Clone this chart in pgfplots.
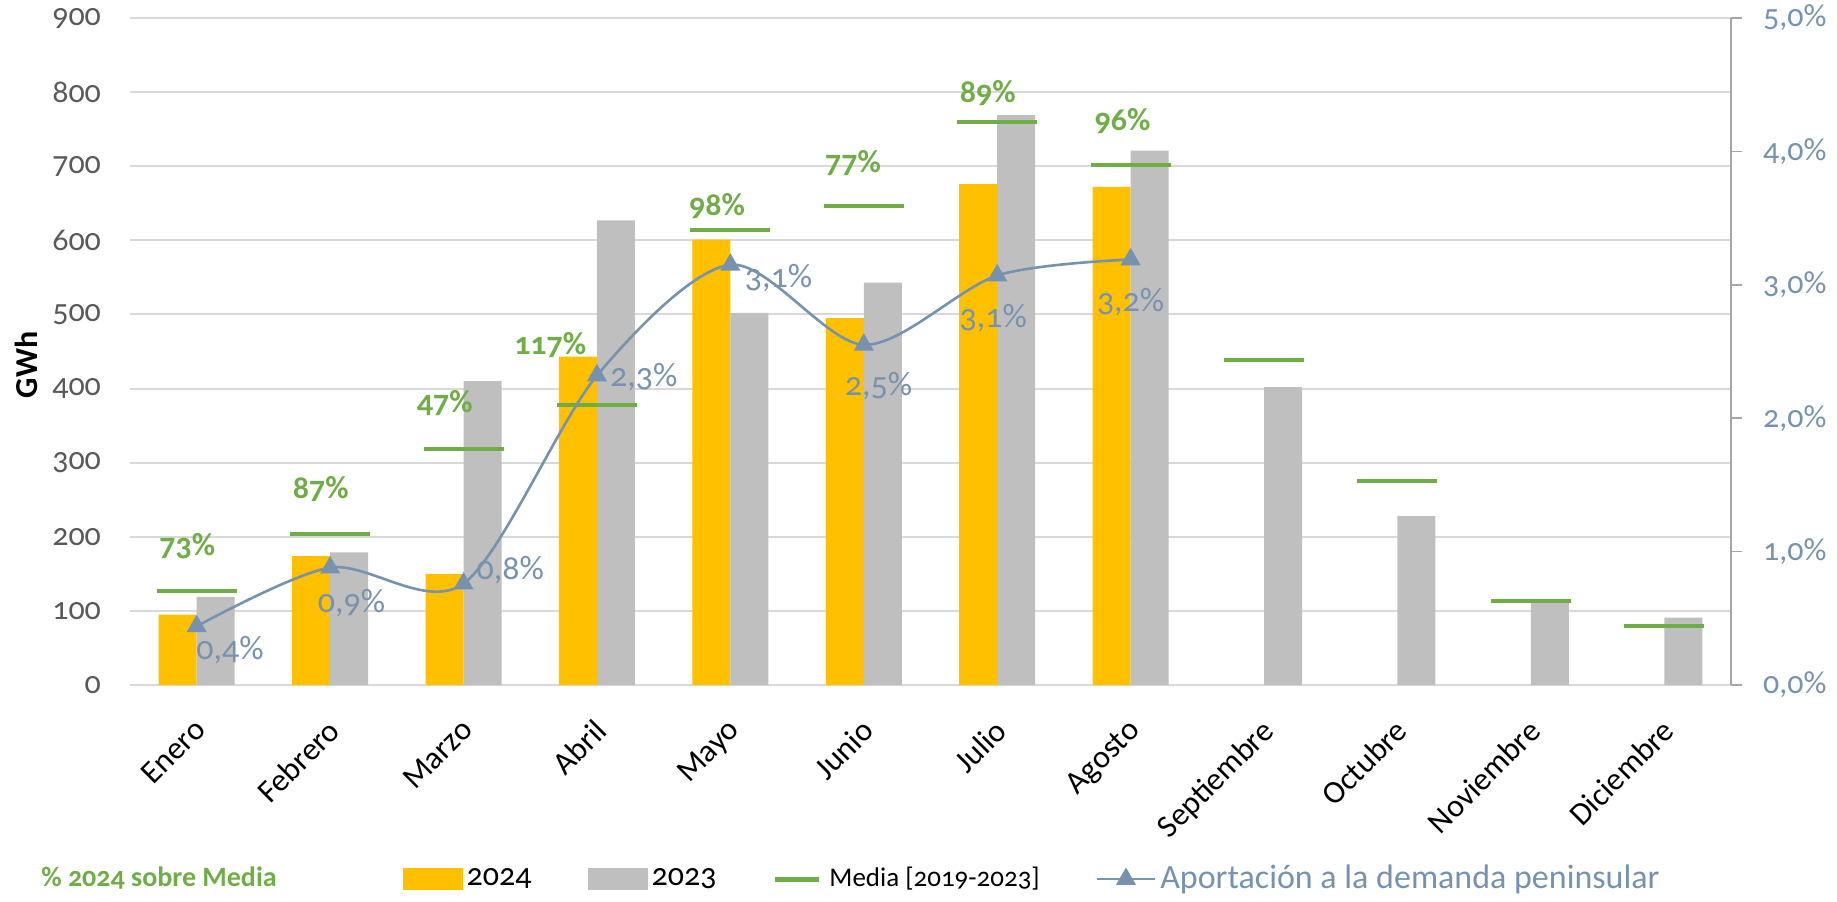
\documentclass[border=0pt]{standalone}
\usepackage{pgfplots}
\pgfplotsset{compat=1.18}
\usepackage{fontspec}
\setmainfont{Carlito}[Numbers=OldStyle]

\definecolor{orange24}{HTML}{FFC000}
\definecolor{gray23}{HTML}{BFBFBF}
\definecolor{mediagreen}{HTML}{70AD47}
\definecolor{slate}{HTML}{7792AE}
\definecolor{gridgray}{HTML}{D9D9D9}
\definecolor{ticktext}{HTML}{595959}
\definecolor{axisgray}{HTML}{A6A6A6}

\pgfplotsset{/pgf/number format/assume math mode=true}

% month index, GWh
\pgfplotstableread{
x y
0 95
1 174
2 150
3 443
4 601
5 495
6 676
7 672
}\prodA
\pgfplotstableread{
x y
0 119
1 179
2 410
3 627
4 502
5 543
6 769
7 721
8 402
9 228
10 113
11 91
}\prodB
\pgfplotstableread{
x y
0 127.5
1 204
2 319
3 378
4 614
5 646
6 760
7 701
8 438
9 275
10 114
11 80
}\media

\begin{document}
\fontsize{16}{19}\selectfont
\begin{tikzpicture}
\path[use as bounding box] (-65pt,-108pt) rectangle (853.5pt,342.5pt);
\begin{axis}[
    scale only axis,
    width=800.5pt, height=333.5pt,
    xmin=-0.5, xmax=11.5,
    ymin=0, ymax=900,
    xtick={0,...,11},
    xticklabels={Enero,Febrero,Marzo,Abril,Mayo,Junio,Julio,Agosto,Septiembre,Octubre,Noviembre,Diciembre},
    ytick={0,100,...,900},
    ymajorgrids,
    grid style={gridgray, line width=1pt},
    axis line style={draw=none},
    major tick length=0pt,
    xticklabel style={xshift=-2pt, yshift=-8.4pt, rotate=45, anchor=north east, black},
    yticklabel style={ticktext, xshift=-9pt},
    ylabel={\bfseries GWh},
    ylabel style={at={(rel axis cs:-0.065,0.48)}, anchor=center},
    legend style={at={(0.45,-0.291)}, anchor=center, draw=none, fill=none,
        legend columns=-1, font=\fontsize{16}{19}\selectfont,
        /tikz/every even column/.append style={column sep=26pt}},
    legend cell align=left,
]
\addlegendimage{empty legend}
\addlegendentry{\textcolor{mediagreen}{\fontsize{14}{17}\selectfont\bfseries\% 2024 sobre Media}\rule{35pt}{0pt}}

\addplot[ybar, bar width=19pt, bar shift=-9.5pt, fill=orange24, draw=none,
    legend image code/.code={\fill[orange24] (0pt,-5.5pt) rectangle (30pt,5.5pt);}]
    table {\prodA};
\addlegendentry{2024}
\addplot[ybar, bar width=19pt, bar shift=9.5pt, fill=gray23, draw=none,
    legend image code/.code={\fill[gray23] (0pt,-5.5pt) rectangle (30pt,5.5pt);}]
    table {\prodB};
\addlegendentry{2023}
\addplot[only marks, mark=-, mark size=20pt, mediagreen,
    mark options={line width=2pt},
    legend image code/.code={\draw[mediagreen, line width=2.5pt] (0pt,0pt) -- (22pt,0pt);}]
    table {\media};
\addlegendentry{\hspace{2pt}\fontsize{13.5}{16}\selectfont Media [2019-2023]}
\addlegendimage{legend image code/.code={\draw[slate, line width=1.3pt, mark=triangle*, mark size=4.5pt, mark repeat=2, mark phase=2] plot coordinates {(0pt,0pt) (14.5pt,0pt) (29pt,0pt)};}}
\addlegendentry{\textcolor{slate}{\fontsize{17}{20}\selectfont Aportación a la demanda peninsular}}

% % 2024 sobre media
\addplot[draw=none, mark=none, forget plot, point meta=explicit,
    nodes near coords={\pgfmathprintnumber[fixed,precision=0]{\pgfplotspointmeta}\%},
    every node near coord/.append style={anchor=center, mediagreen, font=\fontsize{16}{19}\selectfont\bfseries}]
    table[meta=v] {
x y v
-0.07 188 73
0.93 264 87
1.86 381 47
2.65 459 117
3.90 646 98
4.92 704 77
5.93 799 89
6.94 761 96
};
% aportacion labels
\addplot[draw=none, mark=none, forget plot, point meta=explicit,
    nodes near coords={\pgfmathprintnumber[fixed,fixed zerofill,precision=1,use comma]{\pgfplotspointmeta}\%},
    every node near coord/.append style={anchor=center, slate, font=\fontsize{17}{20}\selectfont}]
    table[meta=v] {
x y v
0.25 47 0.4
1.16 111 0.9
2.35 155 0.8
3.35 415 2.3
4.36 549 3.1
5.11 403 2.5
5.97 495 3.1
7.00 517 3.2
};
\end{axis}

\begin{axis}[
    scale only axis,
    width=800.5pt, height=333.5pt,
    xmin=-0.5, xmax=11.5,
    ymin=0, ymax=5,
    axis y line*=right,
    axis x line=none,
    ytick={0,...,5},
    y axis line style={axisgray, line width=0.8pt},
    ytick style={axisgray, line width=0.8pt},
    tick align=outside,
    major tick length=5.5pt,
    yticklabel={\pgfmathprintnumber[fixed,fixed zerofill,precision=1,use comma]{\tick}\%},
    yticklabel style={slate, xshift=5pt},
]
\addplot[slate, line width=1.3pt, smooth, mark=triangle*, mark size=4.5pt]
    coordinates {(0,0.44) (1,0.88) (2,0.76) (3,2.32) (4,3.15) (5,2.55) (6,3.07) (7,3.19)};
\end{axis}
\end{tikzpicture}
\end{document}
